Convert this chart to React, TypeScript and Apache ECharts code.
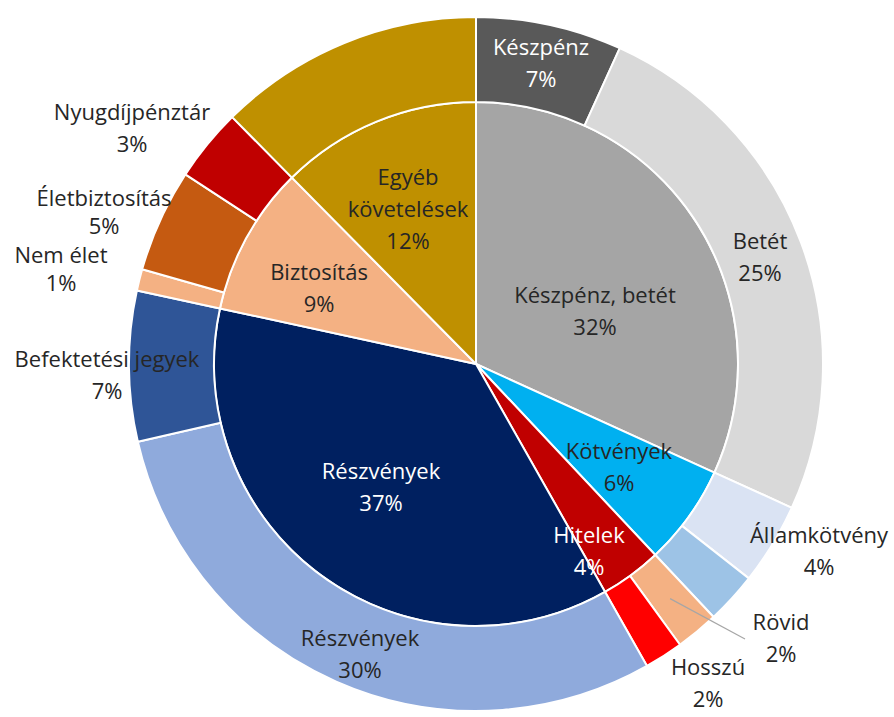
import React, { useEffect, useRef } from "react";
import * as echarts from "echarts";

// Inner ring (main categories), clockwise from 12 o'clock
const innerNames = ["Készpénz, betét", "Kötvények", "Hitelek", "Részvények", "Biztosítás", "Egyéb\nkövetelések"];
const innerValues = [31.8, 6.2, 3.8, 36.6, 9.2, 12.4];
const innerColors = ["#A5A5A5", "#00B0F0", "#C00000", "#002060", "#F4B183", "#BF9000"];
const innerTextColors = ["#262626", "#262626", "#FFFFFF", "#FFFFFF", "#262626", "#262626"];

// Outer ring (sub categories)
const outerNames = [
  "Készpénz", "Betét", "Államkötvény", "Egyéb kötvény", "Rövid", "Hosszú",
  "Részvények", "Befektetési jegyek", "Nem élet", "Életbiztosítás", "Nyugdíjpénztár", "Egyéb követelések",
];
const outerValues = [6.8, 25.0, 3.8, 2.4, 2.0, 1.8, 29.6, 7.0, 1.0, 4.8, 3.4, 12.4];
const outerColors = [
  "#595959", "#D9D9D9", "#DAE3F3", "#9DC3E6", "#F4B183", "#FF0000",
  "#8FAADC", "#2F5597", "#F4B183", "#C55A11", "#C00000", "#BF9000",
];
const outerShowLabel = [true, true, true, false, true, true, true, true, true, true, true, false];
const outerInside = [true, true, false, false, false, false, true, false, false, false, false, false];
const outerTextColors = [
  "#FFFFFF", "#262626", "#262626", "#262626", "#262626", "#262626",
  "#262626", "#262626", "#262626", "#262626", "#262626", "#262626",
];

// Layout only: centre, radii and label block centres
const CENTER = [476, 364];
const R_INNER = 262;
const R_OUTER = 347;
const innerLabelPos: number[][] = [[595, 310], [619, 466], [589, 550], [381, 486], [319, 287], [408, 208]];
const outerLabelPos: (number[] | null)[] = [
  [541, 62], [760, 256], [819, 550], null, [781, 637], [708, 682],
  [360, 653], [107, 374], [61, 268], [104, 211], [132, 127], null,
];
const outerLineHeight = [32, 32, 32, 32, 32, 32, 32, 32, 28, 28, 32, 32];
const LEADER_INDEX = 4; // "Rövid"
const leaderEndOffset = [-36, 2];

const FONT = "'Open Sans', Lato, sans-serif";
const FONT_SIZE = 22;

export default function App() {
  const ref = useRef<HTMLDivElement>(null);
  useEffect(() => {
    document.body.style.margin = "0";
    if (!ref.current) return;
    const chart = echarts.init(ref.current, undefined, { renderer: "svg" });
    const fmt = (p: any) => `${p.name}\n${Math.round(p.percent)}%`;

    // leader line for "Rövid": from the middle of its slice to its label
    const total = outerValues.reduce((a, b) => a + b, 0);
    const before = outerValues.slice(0, LEADER_INDEX).reduce((a, b) => a + b, 0);
    const midFrac = (before + outerValues[LEADER_INDEX] / 2) / total;
    const theta = midFrac * 2 * Math.PI;
    const rMid = (R_INNER + R_OUTER) / 2;
    const sx = CENTER[0] + rMid * Math.sin(theta);
    const sy = CENTER[1] - rMid * Math.cos(theta);
    const lp = outerLabelPos[LEADER_INDEX] as number[];
    const ex = lp[0] + leaderEndOffset[0];
    const ey = lp[1] + leaderEndOffset[1];

    chart.setOption({
      animation: false,
      backgroundColor: "#FFFFFF",
      graphic: [
        {
          type: "line",
          z: 100,
          shape: { x1: sx, y1: sy, x2: ex, y2: ey },
          style: { stroke: "#A6A6A6", lineWidth: 1.2 },
          silent: true,
        },
      ],
      series: [
        {
          type: "pie",
          name: "inner",
          center: CENTER,
          radius: [0, R_INNER],
          startAngle: 90,
          clockwise: true,
          avoidLabelOverlap: false,
          emphasis: { disabled: true },
          itemStyle: { borderColor: "#FFFFFF", borderWidth: 2 },
          label: {
            show: true,
            position: "inside",
            formatter: fmt,
            fontFamily: FONT,
            fontSize: FONT_SIZE,
            lineHeight: 32,
            align: "center",
          },
          labelLine: { show: false },
          labelLayout: (params: any) => {
            const p = innerLabelPos[params.dataIndex];
            return { x: p[0], y: p[1], align: "center", verticalAlign: "middle" };
          },
          data: innerNames.map((n, i) => ({
            name: n,
            value: innerValues[i],
            itemStyle: { color: innerColors[i] },
            label: { color: innerTextColors[i] },
          })),
        },
        {
          type: "pie",
          name: "outer",
          center: CENTER,
          radius: [R_INNER, R_OUTER],
          startAngle: 90,
          clockwise: true,
          avoidLabelOverlap: false,
          emphasis: { disabled: true },
          itemStyle: { borderColor: "#FFFFFF", borderWidth: 2 },
          label: {
            show: true,
            formatter: fmt,
            fontFamily: FONT,
            fontSize: FONT_SIZE,
            lineHeight: 32,
            align: "center",
          },
          labelLine: { show: false },
          labelLayout: (params: any) => {
            const p = outerLabelPos[params.dataIndex];
            if (!p) return {};
            return { x: p[0], y: p[1], align: "center", verticalAlign: "middle" };
          },
          data: outerNames.map((n, i) => ({
            name: n,
            value: outerValues[i],
            itemStyle: { color: outerColors[i] },
            label: {
              show: outerShowLabel[i],
              position: outerInside[i] ? "inside" : "outside",
              color: outerTextColors[i],
              lineHeight: outerLineHeight[i],
            },
            labelLine: { show: false },
          })),
        },
      ],
    });
    return () => chart.dispose();
  }, []);
  return <div ref={ref} style={{ width: 894, height: 717 }} />;
}
